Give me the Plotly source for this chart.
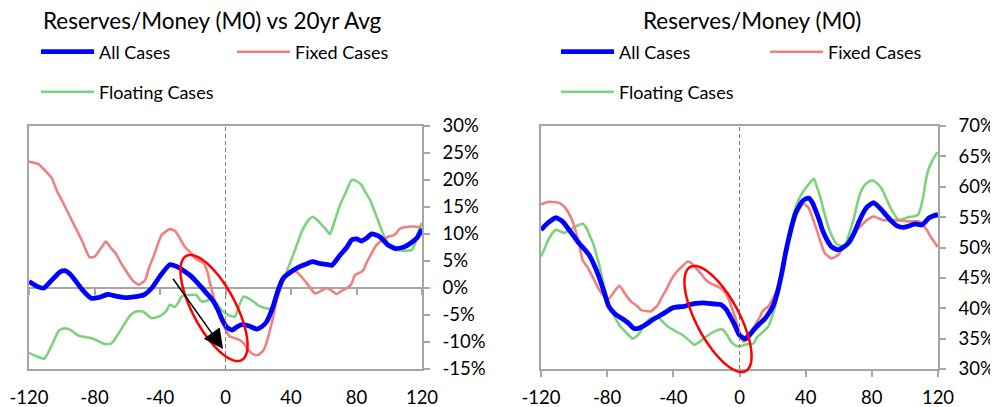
import numpy as np
import plotly.graph_objects as go

# ---------------- data ----------------
x_ticks = [-120, -80, -40, 0, 40, 80, 120]
x_tick_labels = ["-120", "-80", "-40", "0", "40", "80", "120"]
left_y_ticks = [-15, -10, -5, 0, 5, 10, 15, 20, 25, 30]
left_y_labels = ["-15%", "-10%", "-5%", "0%", "5%", "10%", "15%", "20%", "25%", "30%"]
right_y_ticks = [30, 35, 40, 45, 50, 55, 60, 65, 70]
right_y_labels = ["30%", "35%", "40%", "45%", "50%", "55%", "60%", "65%", "70%"]

left_titles = "Reserves/Money (M0) vs 20yr Avg"
right_titles = "Reserves/Money (M0)"
series_names = ["All Cases", "Fixed Cases", "Floating Cases"]

left_all_x = [-120, -115, -111, -106, -101, -98, -95, -92, -87, -82, -78, -72, -67, -61, -55, -50, -45, -40, -34, -30, -26, -21, -17, -12, -8, -5, -2, 1, 4, 7, 10, 14, 19, 22, 25, 29, 32, 35, 40, 45, 49, 53, 58, 63, 65, 70, 74, 77, 80, 83, 86, 89, 92, 95, 99, 104, 109, 113, 117, 120]
left_all_y = [1.2, 0.3, 0.0, 1.5, 3.0, 3.2, 2.6, 1.5, -0.5, -1.9, -1.8, -1.2, -1.5, -1.8, -1.6, -1.3, 0.0, 2.2, 4.3, 4.0, 3.3, 2.2, 0.9, -0.8, -2.2, -3.8, -5.9, -7.3, -7.8, -7.2, -6.8, -7.0, -7.6, -7.2, -6.3, -3.5, -0.5, 1.7, 3.0, 3.9, 4.4, 4.9, 4.5, 4.3, 4.2, 6.1, 7.5, 8.9, 9.1, 8.7, 9.2, 10.0, 9.8, 9.3, 8.0, 7.3, 7.6, 8.3, 9.3, 10.9]

left_fixed_x = [-120, -114, -110, -106, -103, -100, -94, -90, -87, -83, -80, -76, -73, -70, -67, -64, -61, -57, -53, -49, -47, -44, -39, -34, -31, -29, -25, -21, -18.6, -13.5, -11, -9.5, -5.4, -0.3, 2.7, 7.8, 11, 14, 17, 20, 23, 25, 27, 29.2, 31, 33.3, 37.4, 40, 43.5, 46, 49.6, 54.7, 58, 61.8, 64, 67.9, 71, 74, 77, 79, 81, 84, 86, 89, 92, 96, 99.4, 103, 106.6, 110, 114.7, 118, 120]
left_fixed_y = [23.4, 22.9, 21.7, 20.3, 18.0, 16.3, 12.6, 10.2, 8.3, 5.7, 5.8, 7.4, 8.6, 7.4, 6.4, 4.7, 3.3, 1.5, 0.6, 1.5, 3.5, 5.8, 9.8, 10.9, 10.6, 9.8, 7.7, 6.4, 5.5, 4.6, 3.0, 0.9, -3.5, -7.5, -9.0, -9.5, -10.2, -11.5, -12.3, -12.4, -11.6, -10.2, -8.0, -5.3, -2.5, -0.3, 2.7, 3.1, 3.0, 2.2, 0.9, -1.0, -0.6, 0.0, -0.3, -1.1, -0.5, -0.1, 0.8, 2.4, 2.7, 3.2, 4.6, 6.3, 7.9, 8.9, 9.5, 9.8, 11.0, 11.3, 11.4, 11.3, 11.0]

left_float_x = [-120, -115, -110.6, -108, -105, -102, -99, -96, -94, -91, -89, -85, -80, -76, -73.6, -70, -68.5, -65, -61.4, -58, -54.3, -50.2, -47, -45, -42, -39, -36, -34, -31, -29, -26.8, -22, -18, -14.6, -11, -8.5, -5, -2.3, 1.7, 5.8, 8, 10.9, 14, 17, 20, 23, 28, 30, 33.3, 36, 39.4, 43, 46.5, 50, 53.2, 56, 58.7, 61, 63.8, 66, 70, 73, 77, 80, 83, 85, 88.3, 90, 92.3, 95, 97.4, 100, 102.5, 107.6, 113.7, 116, 118, 120]
left_float_y = [-12.0, -12.7, -13.1, -11.8, -9.9, -8.0, -7.5, -7.6, -7.9, -8.6, -8.9, -9.1, -9.5, -10.1, -10.4, -10.3, -9.9, -8.3, -6.5, -5.0, -4.3, -4.4, -5.2, -5.6, -5.4, -5.0, -4.2, -3.1, -3.5, -2.8, -1.6, -1.3, -1.3, -2.5, -2.3, -1.9, -3.0, -4.1, -5.0, -5.3, -3.5, -1.6, -1.9, -2.5, -3.2, -3.6, -3.8, -2.8, -0.3, 2.0, 4.6, 7.5, 10.4, 12.3, 13.2, 12.6, 11.7, 11.0, 10.0, 11.8, 15.4, 17.4, 20.0, 19.8, 19.1, 18.0, 16.3, 15.0, 13.2, 11.0, 9.2, 8.0, 7.3, 6.9, 7.0, 8.5, 10.8, 12.1]

right_all_x = [-120, -116, -111, -107, -103, -100, -97, -94, -91, -88, -85, -82, -79, -75, -71, -67, -64, -61, -58.5, -55, -52.5, -48, -44.4, -41, -38.4, -33.3, -30, -26.3, -22, -19.2, -15, -11.2, -8, -6.1, -3, -0.1, 3.3, 6, 8.4, 12, 15.4, 18, 20.5, 23, 25.5, 28, 31.5, 34, 37.6, 40, 42, 44, 45.6, 48, 50.1, 53, 55.7, 59.7, 62, 65.8, 69, 71.8, 74, 76.9, 80.9, 83, 85.9, 89, 92, 95, 99, 102, 106.1, 110.1, 112, 114.2, 117, 120]
right_all_y = [52.9, 54.0, 54.9, 54.3, 52.9, 51.8, 50.7, 49.8, 48.8, 47.2, 45.2, 42.8, 40.3, 39.0, 38.3, 37.5, 36.7, 36.7, 37.0, 37.6, 38.1, 38.8, 39.4, 40.0, 40.2, 40.3, 40.6, 40.8, 40.9, 40.8, 40.7, 40.6, 39.8, 38.9, 37.3, 35.6, 35.0, 35.6, 36.4, 37.4, 38.3, 39.3, 40.5, 42.7, 45.7, 49.3, 53.4, 55.7, 57.5, 58.0, 58.1, 57.4, 56.4, 54.7, 52.9, 51.2, 50.1, 49.6, 49.9, 50.7, 52.2, 54.0, 55.3, 56.6, 57.4, 57.0, 56.2, 55.2, 54.3, 53.6, 53.3, 53.5, 53.9, 53.7, 54.1, 54.8, 55.2, 55.4]

right_fixed_x = [-120, -116, -110, -107, -105, -102, -99.8, -97, -94.8, -92, -89.8, -87, -84.7, -82, -79.7, -76, -72.6, -69, -65.6, -62, -59.5, -53.5, -49.5, -47, -44.4, -42, -39.4, -35, -31.3, -29, -26.3, -23, -20.2, -17, -13.2, -10, -7.1, -5, -2.1, 0, 2.3, 4, 6.3, 9, 12.4, 14, 17.4, 20, 22.5, 25, 27.5, 30, 32.5, 35, 38.6, 41.6, 44, 46.7, 49, 51.7, 55.7, 59.8, 62, 65.8, 69, 73.9, 77, 80.9, 84, 87, 94, 102.1, 108.1, 110, 113.2, 116, 119.8]
right_fixed_y = [57.1, 57.5, 57.4, 57.0, 56.4, 55.0, 53.4, 50.5, 47.9, 46.8, 45.7, 44.2, 43.0, 42.0, 41.4, 42.6, 43.7, 42.3, 41.1, 40.4, 39.7, 39.5, 40.5, 41.8, 43.0, 44.3, 45.5, 46.8, 47.7, 47.4, 46.6, 45.6, 44.6, 44.0, 43.6, 43.0, 41.9, 40.3, 38.1, 36.0, 34.5, 34.7, 35.3, 37.0, 38.6, 39.5, 40.3, 41.5, 43.0, 45.5, 48.5, 51.5, 54.0, 55.8, 57.2, 56.6, 55.0, 52.9, 50.9, 49.0, 48.2, 48.8, 49.7, 51.0, 52.3, 53.7, 54.5, 55.1, 54.8, 54.5, 54.5, 54.3, 54.3, 54.0, 52.9, 51.6, 50.1]

right_float_x = [-120, -118, -116, -113, -110.9, -108, -105.9, -103, -100.9, -97, -94.8, -92.5, -90.8, -88.5, -86.7, -84.5, -82.7, -80.7, -78.7, -75.5, -72.6, -68.5, -64.6, -62.5, -60.5, -57.5, -54.5, -49.5, -46.5, -43.4, -38.5, -34.3, -30.5, -27.3, -24, -20.2, -17, -14.2, -10.2, -7.5, -5.1, -2.5, -0.1, 3.3, 8.4, 10.5, 13.4, 17.4, 19.5, 21.5, 24, 26.5, 28.5, 30.5, 33, 35.6, 38, 40.6, 43, 45, 47, 48.7, 51, 53.7, 56, 58.7, 61, 63.8, 66, 68.8, 71, 72.8, 74.9, 78, 80.9, 83, 85.9, 88.5, 91, 93.5, 96, 99, 102.1, 105, 107.7, 109.5, 111.1, 112.5, 114.2, 117, 119.6]
right_float_y = [48.5, 49.7, 51.0, 52.4, 52.9, 52.6, 52.4, 52.8, 53.2, 53.7, 53.9, 53.2, 52.1, 50.7, 49.0, 46.8, 44.6, 42.3, 40.3, 38.6, 37.2, 36.0, 35.0, 35.3, 35.9, 37.2, 38.2, 38.6, 37.8, 37.0, 36.2, 35.6, 34.7, 34.0, 34.5, 35.3, 35.9, 36.3, 36.5, 35.6, 34.5, 33.9, 33.7, 34.0, 34.2, 35.2, 35.9, 37.0, 38.5, 40.3, 43.5, 46.8, 50.0, 53.2, 55.8, 57.8, 59.0, 60.0, 60.8, 61.3, 59.8, 58.4, 56.0, 53.4, 51.8, 50.6, 50.3, 50.4, 52.0, 54.5, 57.0, 58.8, 60.0, 60.8, 61.0, 60.6, 59.7, 58.2, 56.7, 55.5, 54.6, 54.7, 55.0, 55.1, 55.3, 56.5, 58.4, 60.8, 62.8, 64.5, 65.7]

# ---------------- styling / geometry ----------------
W, H = 998, 407
OX, OY = 8, 8  # page body margin: the figure starts 8px in from the window corner
FONT = "Lato"
TXT = "#000000"
GRID = "#A6A6A6"
C_ALL = "#0000FF"
C_FIX = "rgb(240,128,128)"
C_FLT = "rgb(125,210,125)"

L_PX = (29, 422)
R_PX = (541, 938)
Y_PX = (126, 369)  # top, bottom (window pixels)


def PX(x):
    return (x - OX) / W


def PY(y):
    return 1 - (y - OY) / H


def xdom(px):
    return [PX(px[0]), PX(px[1])]


ydom = [PY(Y_PX[1]), PY(Y_PX[0])]
LEFT_RANGE = [-15, 30]
RIGHT_RANGE = [30, 70]

fig = go.Figure()

charts = [
    ("x", "y", left_all_x, left_all_y, left_fixed_x, left_fixed_y, left_float_x, left_float_y, "legend", "legend2"),
    ("x2", "y2", right_all_x, right_all_y, right_fixed_x, right_fixed_y, right_float_x, right_float_y, "legend3", "legend4"),
]
for xa, ya, ax_, ay_, fx, fy, gx, gy, lg1, lg2 in charts:
    fig.add_trace(go.Scatter(x=gx, y=gy, mode="lines", name=series_names[2], xaxis=xa, yaxis=ya,
                             line=dict(color=C_FLT, width=2.6, shape="spline", smoothing=0.5),
                             legend=lg2, hoverinfo="skip"))
    fig.add_trace(go.Scatter(x=fx, y=fy, mode="lines", name=series_names[1], xaxis=xa, yaxis=ya,
                             line=dict(color=C_FIX, width=2.6, shape="spline", smoothing=0.5),
                             legend=lg1, legendrank=2, hoverinfo="skip"))
    fig.add_trace(go.Scatter(x=ax_, y=ay_, mode="lines", name=series_names[0], xaxis=xa, yaxis=ya,
                             line=dict(color=C_ALL, width=4.8, shape="spline", smoothing=0.5),
                             legend=lg1, legendrank=1, hoverinfo="skip"))

# dashed reference line at t=0 (left chart, also carries the zero-line tick axis)
fig.add_trace(go.Scatter(x=[0, 0], y=LEFT_RANGE, mode="lines", xaxis="x3", yaxis="y",
                         line=dict(color="#808080", width=1, dash="4px,3px"),
                         showlegend=False, hoverinfo="skip"))
fig.add_shape(type="line", xref="x2", yref="y2 domain", x0=0, x1=0, y0=0, y1=1,
              line=dict(color="#808080", width=1, dash="4px,3px"))

tickfont = dict(family=FONT, size=18.5, color=TXT)
common_x = dict(range=[-120, 120], tickvals=x_ticks, ticktext=x_tick_labels, showgrid=False,
                zeroline=False, showline=True, linecolor=GRID, linewidth=1.5, mirror=True,
                tickfont=tickfont, tickcolor=GRID, tickwidth=1.5, fixedrange=True, automargin=False)
common_y = dict(side="right", showgrid=False, showline=True, linecolor=GRID, linewidth=1.5,
                mirror=True, ticks="outside", ticklen=6, tickcolor=GRID, tickwidth=1.5,
                tickfont=tickfont, ticklabelstandoff=9, fixedrange=True, automargin=False)

zero_frac = ydom[0] + (0 - LEFT_RANGE[0]) / (LEFT_RANGE[1] - LEFT_RANGE[0]) * (ydom[1] - ydom[0])

fig.update_layout(
    width=W, height=H, margin=dict(l=0, r=0, t=0, b=0, autoexpand=False),
    paper_bgcolor="white", plot_bgcolor="white",
    font=dict(family=FONT, color=TXT),
    xaxis=dict(domain=xdom(L_PX), anchor="y", ticks="", ticklabelstandoff=11, **common_x),
    yaxis=dict(domain=ydom, anchor="x", range=LEFT_RANGE, tickvals=left_y_ticks, ticktext=left_y_labels,
               zeroline=True, zerolinecolor=GRID, zerolinewidth=1.5, **common_y),
    xaxis3=dict(domain=xdom(L_PX), overlaying="x", anchor="free", position=zero_frac, range=[-120, 120],
                tickvals=x_ticks, showticklabels=False, ticks="outside", ticklen=6, tickcolor=GRID,
                tickwidth=1.5, showline=False, showgrid=False, zeroline=False, fixedrange=True,
                automargin=False),
    xaxis2=dict(domain=xdom(R_PX), anchor="y2", ticks="outside", ticklen=6, ticklabelstandoff=5, **common_x),
    yaxis2=dict(domain=ydom, anchor="x2", range=RIGHT_RANGE, tickvals=right_y_ticks, ticktext=right_y_labels,
                zeroline=False, **common_y),
    showlegend=True,
)

legend_common = dict(orientation="h", xanchor="left", yanchor="middle", bgcolor="rgba(0,0,0,0)",
                     font=dict(family=FONT, size=18, color=TXT), itemwidth=53,
                     entrywidthmode="pixels", itemclick=False, itemdoubleclick=False)
fig.update_layout(
    legend=dict(x=PX(36), y=PY(52), entrywidth=128, **legend_common),
    legend2=dict(x=PX(36), y=PY(92), entrywidth=128, **legend_common),
    legend3=dict(x=PX(556), y=PY(52), entrywidth=141, **legend_common),
    legend4=dict(x=PX(556), y=PY(92), entrywidth=141, **legend_common),
)

# titles
fig.add_annotation(text=left_titles, xref="paper", yref="paper", x=PX(212), y=PY(21),
                   showarrow=False, xanchor="center", yanchor="middle",
                   font=dict(family=FONT, size=22.5, color=TXT))
fig.add_annotation(text=right_titles, xref="paper", yref="paper", x=PX(752), y=PY(21),
                   showarrow=False, xanchor="center", yanchor="middle",
                   font=dict(family=FONT, size=22.5, color=TXT))


# red ellipses (annotation highlights), defined in window pixels, placed in paper units
def ellipse_path(cx, cy, a, b, ang):
    t = np.linspace(0, 2 * np.pi, 73)
    th = np.deg2rad(ang)
    X = cx + a * np.cos(t) * np.cos(th) - b * np.sin(t) * np.sin(th)
    Y = cy + a * np.cos(t) * np.sin(th) + b * np.sin(t) * np.cos(th)
    return "M" + " L".join(f"{PX(xx):.5f},{PY(yy):.5f}" for xx, yy in zip(X, Y)) + " Z"


fig.add_shape(type="path", xref="paper", yref="paper", path=ellipse_path(214, 308, 59, 21.5, 62),
              line=dict(color="#FF0000", width=2.5))
fig.add_shape(type="path", xref="paper", yref="paper", path=ellipse_path(718, 319, 59, 21.5, 62),
              line=dict(color="#FF0000", width=2.5))

# black arrow on the left chart
fig.add_annotation(x=-1.5, y=-11.3, ax=-32.7, ay=2.0, xref="x", yref="y", axref="x", ayref="y",
                   showarrow=True, arrowhead=2, arrowsize=2.6, arrowwidth=1.5, arrowcolor="#000000",
                   text="")

fig.write_html("out.html")
